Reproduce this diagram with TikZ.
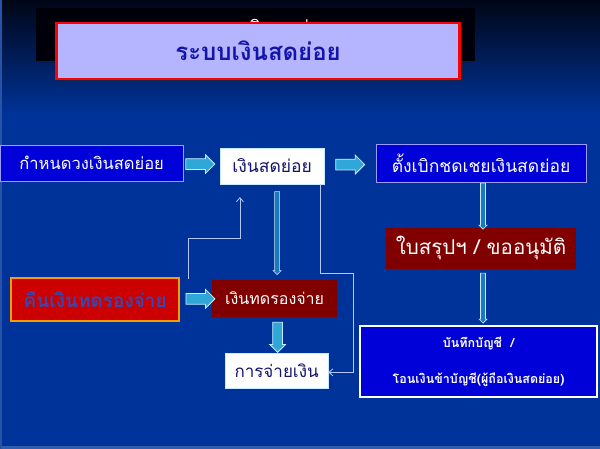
\documentclass[tikz,border=0pt]{standalone}
\usepackage{fontspec}
\newfontfamily\thaifont[Script=Thai]{Loma}
\usetikzlibrary{shapes.arrows,arrows.meta,shadows}
\definecolor{bgblue}{HTML}{003399}
\definecolor{topdark}{HTML}{000616}
\definecolor{boxblue}{HTML}{0000D8}
\definecolor{boxline}{HTML}{9C9CFF}
\definecolor{darkred}{HTML}{800000}
\definecolor{refundred}{HTML}{CC0000}
\definecolor{refundline}{HTML}{FF9900}
\definecolor{refundtext}{HTML}{3848B0}
\definecolor{lavender}{HTML}{B4B4FF}
\definecolor{titleblue}{HTML}{1414A8}
\definecolor{arrowblue}{HTML}{2FA8D8}
\definecolor{arrowline}{HTML}{C8ECFF}
\definecolor{thinline}{HTML}{B4C8FF}
\definecolor{textblue}{HTML}{14146E}
\newcommand{\fs}[1]{\fontsize{#1pt}{#1pt}\selectfont}

\begin{document}
\begin{tikzpicture}[x=1pt,y=-1pt,font=\thaifont,
    box/.style={draw, rectangle, inner sep=2pt, align=center},
    fatarrow/.style={single arrow, draw=arrowline, fill=arrowblue, line width=0.8pt,
        single arrow head extend=4pt, single arrow head indent=0pt, inner sep=5pt},
    thinarrow/.style={single arrow, draw=arrowline, fill=arrowblue!60!bgblue, line width=0.6pt,
        single arrow head extend=1.5pt, inner sep=2.2pt, shape border rotate=270},
    link/.style={draw=thinline, line width=0.8pt, -{Straight Barb[length=4pt,width=7pt]}}]

    % the background
    \fill[bgblue] (0,0) rectangle (600,449);
    \shade[top color=topdark, bottom color=bgblue] (0,0) rectangle (600,115);
    \fill[bgblue!80!white] (0,446) rectangle (600,449);
    \fill[bgblue!85!white] (0,0) rectangle (1.5,449);

    % the title
    \fill[black!96!blue] (36,8) rectangle (475,61);
    \node[white, anchor=base, font=\thaifont\fs{19}] (titleback) at (266,35) {ระบบเงินสดย่อย};
    \node[draw=red, line width=2.5pt, fill=lavender, minimum width=403pt, minimum height=56pt,
        drop shadow={shadow xshift=3pt, shadow yshift=-3pt, fill=black!85},
        text=titleblue, font=\thaifont\bfseries\fs{24}] (title) at (258,51) {ระบบเงินสดย่อย};

    % the boxes
    \node[box, draw=boxline, fill=boxblue, text=white, minimum width=183pt, minimum height=36pt,
        font=\thaifont\fs{16.5}] (limit) at (91.5,163) {กำหนดวงเงินสดย่อย};
    \node[box, draw=arrowline, fill=white, text=textblue, minimum width=104pt, minimum height=36pt,
        font=\thaifont\fs{17.5}] (petty) at (272,166) {เงินสดย่อย};
    \node[box, draw=boxline, fill=boxblue, text=white, minimum width=210pt, minimum height=38pt,
        font=\thaifont\fs{17.5}] (claim) at (481,163) {ตั้งเบิกชดเชยเงินสดย่อย};
    \node[box, draw=none, fill=darkred, text=white, minimum width=190pt, minimum height=41pt,
        font=\thaifont\fs{20.5}] (summary) at (481,248.5) {ใบสรุปฯ / ขออนุมัติ};
    \node[box, draw=white, line width=2.5pt, fill=boxblue, text=white, minimum width=237pt,
        minimum height=71pt, font=\thaifont\bfseries\fontsize{12.5pt}{36pt}\selectfont]
        (record) at (478.5,361.5) {บันทึกบัญชี~~/\\โอนเงินข้าบัญชี(ผู้ถือเงินสดย่อย)};
    \node[box, draw=refundline, line width=2.5pt, fill=refundred, text=refundtext, minimum width=168pt,
        minimum height=43pt, font=\thaifont\bfseries\fs{19}] (refund) at (95,299.5) {คืนเงินทดรองจ่าย};
    \node[box, draw=none, fill=darkred, text=white, minimum width=125pt, minimum height=37pt,
        font=\thaifont\fs{16}] (advance) at (274.5,298.5) {เงินทดรองจ่าย};
    \node[box, draw=arrowline, fill=white, text=textblue, minimum width=103pt, minimum height=35pt,
        font=\thaifont\fs{17}] (payment) at (276.5,370.5) {การจ่ายเงิน};

    % the fat arrows between the boxes
    \path (limit.east) -- node[fatarrow, pos=0.39, minimum height=29pt] (arLP) {} (petty.west);
    \path (petty.east) -- node[fatarrow, pos=0.45, minimum height=29pt] (arPC) {} (claim.west);
    \path (refund.east) -- node[fatarrow, pos=0.55, minimum height=29pt] (arRA) {} (advance.west);
    \path ([xshift=3pt]advance.south) -- node[fatarrow, shape border rotate=270, minimum height=30pt,
        inner sep=4.5pt, single arrow head extend=3pt] (arAP) {} ([xshift=3pt]advance.south |- payment.north);

    % the thin arrows
    \path ([xshift=5pt]petty.south) -- node[thinarrow, minimum height=83pt] (arPA) {}
        ([xshift=5pt]petty.south |- advance.north);
    \path ([xshift=2pt]claim.south) -- node[thinarrow, minimum height=46pt] (arCS) {}
        ([xshift=2pt]claim.south |- summary.north);
    \path ([xshift=2pt]summary.south) -- node[thinarrow, minimum height=50pt] (arSR) {}
        ([xshift=2pt]summary.south |- record.north);

    % the thin lines
    \coordinate (refundtop) at (188,279);
    \draw[link, shorten >=13pt] (refundtop) -- (188,238) -| ([xshift=20pt]petty.south west);
    \draw[link] ([xshift=-4pt]petty.south east) |- (353,273) |- ([yshift=-2pt]payment.east);
\end{tikzpicture}
\end{document}
